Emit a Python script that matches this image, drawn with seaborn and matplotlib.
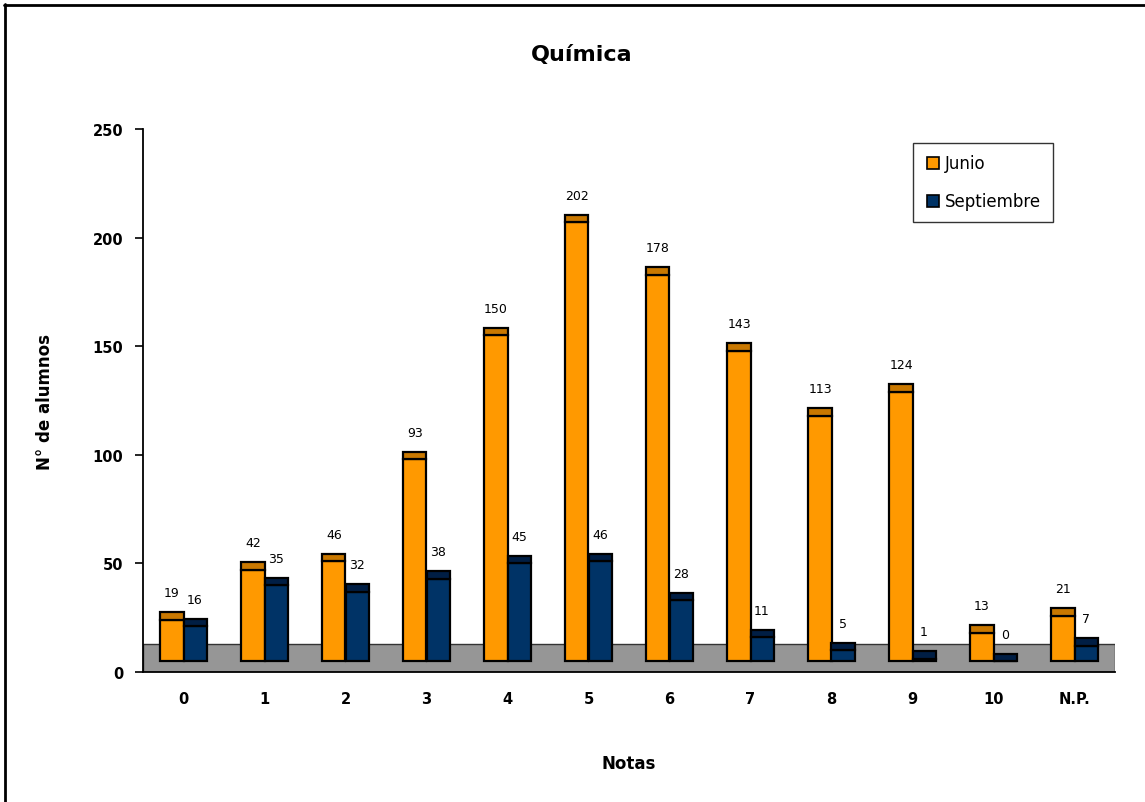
import matplotlib
matplotlib.use("Agg")
import matplotlib.pyplot as plt
from matplotlib.lines import Line2D
from matplotlib.patches import Rectangle
import seaborn as sns
import pandas as pd

# ---- data ----
notas = ["0", "1", "2", "3", "4", "5", "6", "7", "8", "9", "10", "N.P."]
junio = [19, 42, 46, 93, 150, 202, 178, 143, 113, 124, 13, 21]
septiembre = [16, 35, 32, 38, 45, 46, 28, 11, 5, 1, 0, 7]
series = ["Junio", "Septiembre"]
yticks = [0, 50, 100, 150, 200, 250]

# ---- styles ----
face_colors = {"Junio": "#FF9900", "Septiembre": "#003366"}
cap_colors = {"Junio": "#C97800", "Septiembre": "#001E44"}
base = 5.0      # bars stand on the 3-D floor
cap_h = 3.5     # depth of the top face
floor_h = 13.0

df = pd.DataFrame({
    "Nota": notas * 2,
    "Serie": ["Junio"] * len(notas) + ["Septiembre"] * len(notas),
    "Valor": junio + septiembre,
})

sns.set_theme(style="white")
plt.rcParams["font.family"] = ["DejaVu Sans"]
plt.rcParams["text.color"] = "black"
plt.rcParams["axes.labelcolor"] = "black"
plt.rcParams["xtick.color"] = "black"
plt.rcParams["ytick.color"] = "black"

fig = plt.figure(figsize=(11.45, 8.03), dpi=100)
ax = fig.add_axes([143 / 1145, 1 - 673 / 803, (1115 - 143) / 1145, (673 - 130) / 803])

# floor
ax.add_patch(Rectangle((-0.5, 0), len(notas), floor_h, facecolor="#969696",
                       edgecolor="#333333", linewidth=1.0, zorder=0.5))

sns.barplot(data=df, x="Nota", y="Valor", hue="Serie", order=notas,
            hue_order=series, palette=face_colors, saturation=1, width=0.568,
            dodge=True, gap=0, bottom=base, edgecolor="black", linewidth=1.6,
            errorbar=None, legend=False, ax=ax, zorder=2)

# caps (top face) and value labels, derived from the drawn bars
bars = [p for p in ax.patches if isinstance(p, Rectangle) and p.get_zorder() == 2]
for p in bars:
    fc = p.get_facecolor()
    name = "Junio" if fc[0] > 0.5 else "Septiembre"
    x0, w = p.get_x(), p.get_width()
    top = p.get_y() + p.get_height()
    ax.bar(x0, cap_h, width=w, bottom=top, align="edge",
           color=cap_colors[name], edgecolor="black", linewidth=1.6, zorder=2.1)
    val = p.get_height()
    ax.annotate(f"{val:.0f}", (x0 + w / 2, top + cap_h), xytext=(0, 14),
                textcoords="offset points", ha="center", va="center",
                fontsize=9, color="black")

ax.set_xlim(-0.5, len(notas) - 0.5)
ax.set_ylim(0, 250)
ax.set_yticks(yticks)
ax.set_yticklabels([str(t) for t in yticks], fontsize=10.5, fontweight="bold")
ax.set_xticks(range(len(notas)))
ax.set_xticklabels(notas, fontsize=10.5, fontweight="bold")
ax.set_xticks([i - 0.5 for i in range(len(notas) + 1)], minor=True)
ax.tick_params(axis="x", which="major", length=0, pad=14)
ax.tick_params(axis="x", which="minor", length=7, width=1.2, color="black", direction="out")
ax.tick_params(axis="y", length=6, width=1.2, color="black", direction="out", pad=8, left=True)

for s in ["top", "right"]:
    ax.spines[s].set_visible(False)
for s in ["left", "bottom"]:
    ax.spines[s].set_color("black")
    ax.spines[s].set_linewidth(1.3)

ax.set_xlabel("Notas", fontsize=12, fontweight="bold", labelpad=34)
ax.set_ylabel("N° de alumnos", fontsize=12, fontweight="bold", labelpad=28)
fig.text(582 / 1145, 1 - 55 / 803, "Química", ha="center", va="center",
         fontsize=16, fontweight="bold", color="black")

handles = [Line2D([0], [0], marker="s", linestyle="none", markersize=8,
                  markerfacecolor=face_colors[s], markeredgecolor="black",
                  markeredgewidth=1.2) for s in series]
leg = ax.legend(handles, series, loc="upper left", bbox_to_anchor=(0.784, 0.99),
                frameon=True, fancybox=False, edgecolor="black", fontsize=12,
                labelspacing=1.2, handletextpad=0.2, borderpad=0.7,
                handlelength=1.0)
leg.get_frame().set_linewidth(1.0)

# figure frame (top and left edges)
fig.add_artist(Line2D([5 / 1145, 5 / 1145], [0, 1 - 5 / 803], transform=fig.transFigure,
                      color="black", linewidth=2))
fig.add_artist(Line2D([4 / 1145, 1], [1 - 6 / 803, 1 - 6 / 803], transform=fig.transFigure,
                      color="black", linewidth=2))

fig.savefig("out.png", dpi=100)
